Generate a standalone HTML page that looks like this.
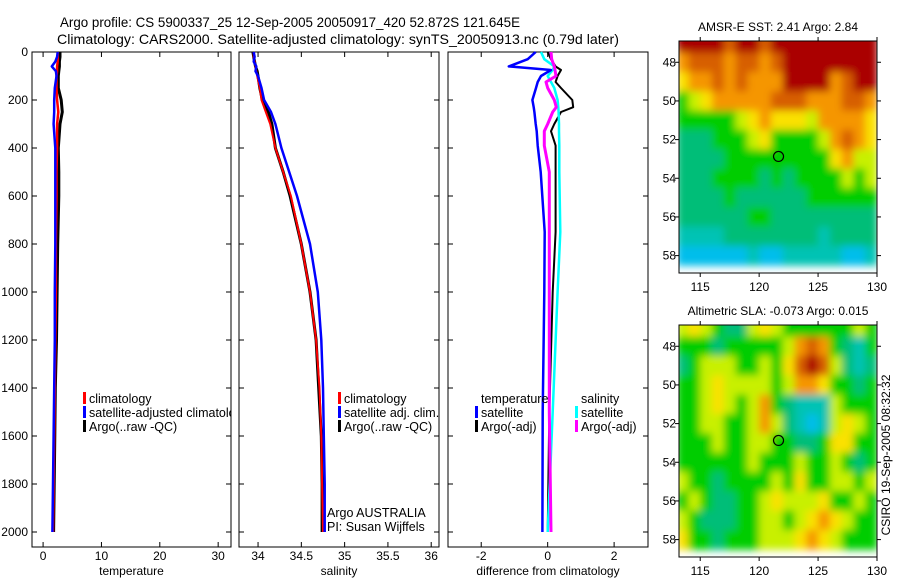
<!DOCTYPE html>
<html><head><meta charset="utf-8"><style>
html,body{margin:0;padding:0;background:#fff;}
svg{display:block;font-family:"Liberation Sans",sans-serif;}
</style></head><body>
<svg id="fig" width="900" height="580" viewBox="0 0 900 580" xmlns="http://www.w3.org/2000/svg">
<defs><filter id="blur" x="-5%" y="-5%" width="110%" height="110%"><feGaussianBlur stdDeviation="4" edgeMode="duplicate"/></filter></defs>
<text x="60" y="27" font-size="14" textLength="460" lengthAdjust="spacingAndGlyphs">Argo profile: CS 5900337_25 12-Sep-2005 20050917_420 52.872S 121.645E</text>
<text x="57" y="44" font-size="14" textLength="562" lengthAdjust="spacingAndGlyphs">Climatology: CARS2000. Satellite-adjusted climatology: synTS_20050913.nc (0.79d later)</text>
<g id="g"></g>
</svg>
<script>
// ---- profile data ----
const depth=[0,20,40,60,80,100,150,200,250,300,400,500,600,800,1000,1200,1400,1600,1800,2000];
const tArgo=[2.9,2.9,2.8,2.8,2.7,2.6,2.6,3.1,3.3,2.9,2.6,2.7,2.7,2.5,2.4,2.3,2.1,2.0,1.9,1.8];
const tClim=[2.5,2.5,2.5,2.4,2.4,2.3,2.3,2.4,2.6,2.4,2.4,2.3,2.3,2.2,2.2,2.1,2.0,1.9,1.8,1.7];
const tSat=[2.5,2.4,2.1,1.5,2.2,2.3,2.0,1.9,1.9,1.8,2.1,2.1,2.1,2.1,2.0,2.0,1.9,1.8,1.7,1.6];
const sArgo=[33.94,33.95,33.96,33.97,33.99,34.0,34.02,34.05,34.12,34.16,34.2,34.29,34.37,34.5,34.6,34.67,34.7,34.73,34.74,34.74];
const sClim=[33.95,33.95,33.96,33.97,33.98,33.99,34.02,34.04,34.09,34.14,34.2,34.29,34.38,34.5,34.6,34.67,34.71,34.73,34.74,34.75];
const sSat=[33.95,33.96,33.95,33.98,33.97,34.0,34.04,34.07,34.15,34.2,34.27,34.36,34.45,34.6,34.69,34.73,34.75,34.76,34.77,34.77];
const dDepth=[0,30,60,75,100,125,150,200,230,250,300,330,390,500,750,1000,1500,2000];
const dTSat=[-0.36,-0.6,-1.17,0.1,-0.2,-0.3,-0.35,-0.46,-0.42,-0.4,-0.36,-0.33,-0.3,-0.21,-0.09,-0.1,-0.15,-0.16];
const dTArgo=[0,0.1,0.24,0.4,0.3,0.24,0.4,0.74,0.77,0.4,0.2,0.1,0.24,0.24,0.24,0.15,0.05,0.0];
const dSSat=[-0.2,-0.1,0.2,0.15,0,0.1,0.2,0.3,0.32,0.33,0.34,0.34,0.35,0.35,0.38,0.3,0.15,0.0];
const dSArgo=[0.1,0.12,0.2,0.22,0.25,-0.05,0.0,0.2,0.26,0.15,0.0,-0.1,-0.1,0.05,0.05,0.05,0.05,0.1];
const depthTicks=[0,200,400,600,800,1000,1200,1400,1600,1800,2000];
const tTicks=[0,10,20,30];
const sTicks=[34,34.5,35,35.5,36];
const dTicks=[-2,0,2];
// ---- map data (values 0-9, rows lat 47..58, cols lon 113.5..129.5) ----
const sst=[
[9,9,9,9,8,9,9,8,9,9,9,9,9,9,9,9,9],
[7,8,8,8,7,8,8,7,8,9,9,9,9,9,9,9,9],
[6,7,7,8,7,8,7,7,7,9,9,9,9,7,8,9,9],
[4,5,6,7,7,7,7,7,8,8,8,7,7,7,8,8,7],
[4,4,4,4,4,5,6,7,6,6,6,5,7,7,7,7,6],
[3,3,3,4,4,4,5,6,4,4,4,4,5,7,8,7,6],
[3,3,3,3,4,4,4,4,4,4,4,4,4,6,7,5,5],
[3,3,3,4,4,4,4,3,4,3,4,4,4,4,5,4,5],
[3,3,3,3,4,3,3,3,3,3,3,4,4,4,4,4,4],
[3,3,3,3,3,3,4,4,3,3,3,3,3,3,3,3,3],
[2,2,2,2,3,3,3,3,3,3,3,3,2,3,3,3,3],
[1,1,1,1,1,1,2,1,1,2,2,2,2,2,1,1,2]];
const sla=[
[5,6,5,4,3,3,5,6,5,4,4,4,4,4,4,5,4],
[4,4,4,3,4,4,4,4,4,5,7,8,7,4,3,2,4],
[3,4,5,5,5,4,4,5,4,6,8,9,8,5,3,2,3],
[4,4,5,6,5,5,5,5,4,5,7,7,6,4,4,3,4],
[4,4,5,6,5,4,5,7,4,3,2,2,2,5,4,4,4],
[4,4,5,5,4,4,5,7,5,3,2,1,2,5,6,5,4],
[4,4,4,5,4,4,5,5,4,4,3,3,4,6,6,4,4],
[4,4,4,4,4,4,5,4,4,4,5,4,4,5,4,3,4],
[5,4,4,3,4,4,4,4,5,4,6,4,4,5,5,4,5],
[4,5,4,3,3,4,4,5,6,5,5,5,6,4,4,5,4],
[5,4,3,3,3,4,4,5,5,4,5,6,7,6,5,4,4],
[6,4,4,3,4,4,4,5,5,5,6,7,6,5,4,4,4]];
const lonTicks=[115,120,125,130];
const latTicks=[48,50,52,54,56,58];
const floatLon=121.645, floatLat=52.872;

const NS="http://www.w3.org/2000/svg";
const G=document.getElementById('g');
function mk(tag,attrs,parent){const e=document.createElementNS(NS,tag);for(const k in attrs)e.setAttribute(k,attrs[k]);(parent||G).appendChild(e);return e;}
const Y=d=>52+d*0.24;
const panels=[
 {x0:32,x1:231,v0:-1.9,v1:32.2,ticks:tTicks,label:'temperature',name:'temperature-panel'},
 {x0:239,x1:439,v0:33.78,v1:36.09,ticks:sTicks,label:'salinity',name:'salinity-panel'},
 {x0:448,x1:648,v0:-3.0,v1:3.02,ticks:dTicks,label:'difference from climatology',name:'difference-panel'}];
panels.forEach(p=>{p.X=v=>p.x0+(v-p.v0)/(p.v1-p.v0)*(p.x1-p.x0);});
const pTop=52,pBot=547;
panels.forEach((p,i)=>{
 const r=mk('rect',{x:p.x0,y:pTop,width:p.x1-p.x0,height:pBot-pTop,fill:'none',stroke:'#000','stroke-width':1});
 
 
 p.ticks.forEach(t=>{
  const x=p.X(t);
  mk('line',{x1:x,x2:x,y1:pBot,y2:pBot-5,stroke:'#000'});
  mk('line',{x1:x,x2:x,y1:pTop,y2:pTop+5,stroke:'#000'});
  const tx=mk('text',{x:x,y:560,'font-size':12,'text-anchor':'middle'});
  tx.textContent=t;
  
  
 });
 depthTicks.forEach(d=>{
  mk('line',{x1:p.x0,x2:p.x0+5,y1:Y(d),y2:Y(d),stroke:'#000'});
  mk('line',{x1:p.x1,x2:p.x1-5,y1:Y(d),y2:Y(d),stroke:'#000'});
  if(i===0){const tx=mk('text',{x:28,y:Y(d)+4,'font-size':12,'text-anchor':'end'});tx.textContent=d;
   
   }
 });
 const xl=mk('text',{x:(p.x0+p.x1)/2,y:575,'font-size':12,'text-anchor':'middle'});
 xl.textContent=p.label;
 
 
});
function line(p,vals,deps,color,w,name){
 const d=vals.map((v,k)=>(k?'L':'M')+p.X(v).toFixed(1)+','+Y(deps[k]).toFixed(1)).join('');
 const e=mk('path',{d:d,fill:'none',stroke:color,'stroke-width':w,'stroke-linejoin':'round'});
 
 
}
const clip=mk('clipPath',{id:'c1'});mk('rect',{x:32,y:52,width:199,height:495},clip);
line(panels[0],tArgo,depth,'#000',3,'temperature-argo-line');
line(panels[0],tClim,depth,'#f00',2.5,'temperature-climatology-line');
line(panels[0],tSat,depth,'#00f',2.5,'temperature-satellite-line');
line(panels[1],sArgo,depth,'#000',3,'salinity-argo-line');
line(panels[1],sClim,depth,'#f00',2,'salinity-climatology-line');
line(panels[1],sSat,depth,'#00f',2.5,'salinity-satellite-line');
line(panels[2],dTArgo,dDepth,'#000',2,'temp-diff-argo-line');
line(panels[2],dSSat,dDepth,'#0ff',2.5,'sal-diff-satellite-line');
line(panels[2],dSArgo,dDepth,'#f0f',3,'sal-diff-argo-line');
line(panels[2],dTSat,dDepth,'#00f',2.5,'temp-diff-satellite-line');
function leg(x,y,color,txt,name,clipId){
 if(color)mk('rect',{x:x-6,y:y-10,width:3,height:12,fill:color});
 const t=mk('text',{x:x,y:y+1,'font-size':12.5});t.textContent=txt;
 if(clipId)t.setAttribute('clip-path','url(#'+clipId+')');
 
 
}
leg(89,402,'#f00','climatology','legend-climatology');
leg(89,416,'#00f','satellite-adjusted climatology','legend-satellite-adjusted','c1');
leg(89,430,'#000','Argo(..raw -QC)','legend-argo-raw');
leg(344,402,'#f00','climatology','legend-climatology-sal');
leg(344,416,'#00f','satellite adj. clim.','legend-satellite-sal');
leg(344,430,'#000','Argo(..raw -QC)','legend-argo-sal');
leg(327,516,null,'Argo AUSTRALIA','argo-australia-note');
leg(327,530,null,'PI: Susan Wijffels','pi-note');
leg(481,402,null,'temperature','legend-temperature-header');
leg(481,416,'#00f','satellite','legend-temp-satellite');
leg(481,430,'#000','Argo(-adj)','legend-temp-argo');
leg(581,402,null,'salinity','legend-salinity-header');
leg(581,416,'#0ff','satellite','legend-sal-satellite');
leg(581,430,'#f0f','Argo(-adj)','legend-sal-argo');

// ---- maps ----
const stops=[[0,110,255],[0,190,235],[0,195,180],[0,190,120],[0,205,0],[200,240,0],[250,225,0],[245,150,0],[215,95,0],[170,0,0]];
function col(v){const c=stops[Math.max(0,Math.min(9,Math.round(v)))];return 'rgb('+c.join(',')+')';}
function map(data,x0,x1,y0,y1,title,name){
 const LX=lon=>x0+(lon-113.2)/(130-113.2)*(x1-x0);
 const LY=lat=>y0+(lat-46.9)/(58.9-46.9)*(y1-y0);
 const cid='clip-'+name;const cp=mk('clipPath',{id:cid});mk('rect',{x:x0,y:y0,width:x1-x0,height:y1-y0},cp);
 const outer=mk('g',{'clip-path':'url(#'+cid+')'});
 const g=mk('g',{filter:'url(#blur)'},outer);
 
 
 data.forEach((row,r)=>row.forEach((v,c)=>{
  const lon=113.5+c, lat=47+r;
  const e=mk('rect',{x:LX(lon-0.5).toFixed(1),y:LY(lat-0.5).toFixed(1),width:(LX(1)-LX(0)+0.6).toFixed(1),height:(LY(1)-LY(0)+0.6).toFixed(1),fill:col(v)},g);
  
  
 }));
 mk('rect',{x:x0,y:y0,width:x1-x0,height:y1-y0,fill:'none',stroke:'#000'});
 lonTicks.forEach(t=>{const x=LX(t);mk('line',{x1:x,x2:x,y1:y0,y2:y0-4,stroke:'#000'});mk('line',{x1:x,x2:x,y1:y1,y2:y1+4,stroke:'#000'});
  const tx=mk('text',{x:x,y:y1+18,'font-size':12,'text-anchor':'middle'});tx.textContent=t;
  
  });
 latTicks.forEach(t=>{const y=LY(t);mk('line',{x1:x0,x2:x0-4,y1:y,y2:y,stroke:'#000'});mk('line',{x1:x1,x2:x1+4,y1:y,y2:y,stroke:'#000'});
  const tx=mk('text',{x:x0-3,y:y+4,'font-size':12,'text-anchor':'end'});tx.textContent=t;
  
  });
 const c=mk('circle',{cx:LX(floatLon),cy:LY(floatLat),r:5,fill:'none',stroke:'#000','stroke-width':1.2});
 
 
 const tt=mk('text',{x:(x0+x1)/2,y:y0-10,'font-size':12,'text-anchor':'middle'});tt.textContent=title;
 
 
}
map(sst,679,877,41,273,'AMSR-E SST: 2.41 Argo: 2.84','sst-map');
map(sla,679,877,325,557,'Altimetric SLA: -0.073 Argo: 0.015','sla-map');
const cs=mk('text',{x:0,y:0,'font-size':12,'text-anchor':'middle',transform:'translate(890,455) rotate(-90)'});
cs.textContent='CSIRO 19-Sep-2005 08:32:32';


</script>
</body></html>
